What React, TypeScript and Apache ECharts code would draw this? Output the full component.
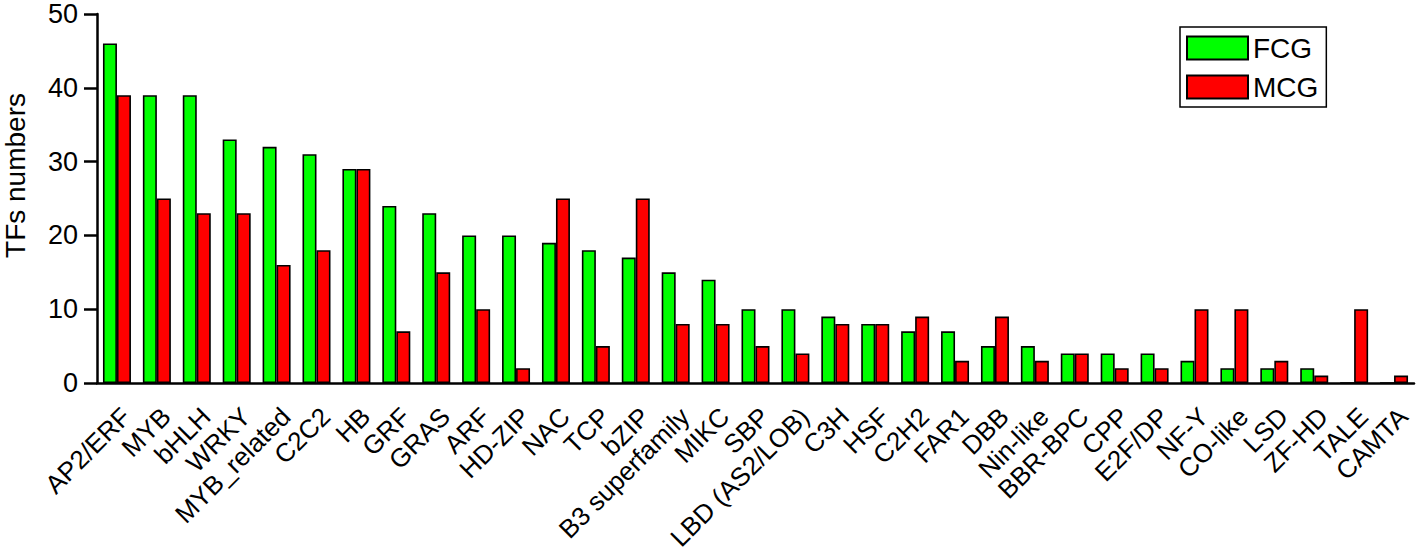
import React, { useEffect, useRef } from "react";
import * as echarts from "echarts";

const categories = [
  "AP2/ERF", "MYB", "bHLH", "WRKY", "MYB_related", "C2C2", "HB", "GRF", "GRAS", "ARF",
  "HD-ZIP", "NAC", "TCP", "bZIP", "B3 superfamily", "MIKC", "SBP", "LBD (AS2/LOB)", "C3H", "HSF",
  "C2H2", "FAR1", "DBB", "Nin-like", "BBR-BPC", "CPP", "E2F/DP", "NF-Y", "CO-like", "LSD",
  "ZF-HD", "TALE", "CAMTA",
];
const fcg = [46, 39, 39, 33, 32, 31, 29, 24, 23, 20, 20, 19, 18, 17, 15, 14, 10, 10, 9, 8, 7, 7, 5, 5, 4, 4, 4, 3, 2, 2, 2, 0, 0];
const mcg = [39, 25, 23, 23, 16, 18, 29, 7, 15, 10, 2, 25, 5, 25, 8, 8, 5, 4, 8, 8, 9, 3, 9, 3, 4, 2, 2, 10, 10, 3, 1, 10, 1];
const yTicks = { min: 0, max: 50, interval: 10 };

const FONT = "'Liberation Sans', Arial, sans-serif";

export default function App() {
  const ref = useRef<HTMLDivElement>(null);
  useEffect(() => {
    if (!ref.current) return;
    const chart = echarts.init(ref.current, null, { renderer: "svg" });
    chart.setOption({
      animation: false,
      textStyle: { fontFamily: FONT },
      grid: { left: 97, right: 4, top: 14, bottom: 175, containLabel: false, outerBoundsMode: "none" },
      legend: {
        left: 1180,
        top: 27,
        orient: "vertical",
        icon: "rect",
        itemWidth: 61,
        itemHeight: 23,
        itemGap: 11,
        padding: [7, 8, 6, 6],
        borderColor: "#000",
        borderWidth: 1.5,
        textStyle: { fontSize: 28, color: "#000", fontFamily: FONT },
        data: ["FCG", "MCG"],
      },
      xAxis: {
        type: "category",
        data: categories,
        axisLine: { lineStyle: { color: "#000", width: 2.5 } },
        axisTick: { alignWithLabel: true, length: 13, lineStyle: { color: "#000", width: 2.5 } },
        axisLabel: {
          rotate: 45,
          fontSize: 26,
          color: "#000",
          margin: 20,
          interval: 0,
          align: "right",
          verticalAlign: "top",
          fontFamily: FONT,
        },
      },
      yAxis: {
        type: "value",
        min: yTicks.min,
        max: yTicks.max,
        interval: yTicks.interval,
        name: "TFs numbers",
        nameLocation: "middle",
        nameGap: 68,
        nameTextStyle: { fontSize: 28, color: "#000", fontFamily: FONT, padding: [0, 0, 0, 46] },
        splitLine: { show: false },
        axisLine: { show: true, lineStyle: { color: "#000", width: 2.5 } },
        axisTick: { show: true, length: 13, lineStyle: { color: "#000", width: 2.5 } },
        axisLabel: { fontSize: 27, color: "#000", margin: 19, fontFamily: FONT },
      },
      series: [
        {
          name: "FCG",
          type: "bar",
          data: fcg,
          barWidth: 14,
          barGap: "0%",
          itemStyle: { color: "#00ff00", borderColor: "#000", borderWidth: 1.6 },
        },
        {
          name: "MCG",
          type: "bar",
          data: mcg,
          barWidth: 14,
          barGap: "0%",
          itemStyle: { color: "#ff0000", borderColor: "#000", borderWidth: 1.6 },
        },
      ],
    });
    return () => chart.dispose();
  }, []);
  return (
    <div
      ref={ref}
      style={{ position: "fixed", left: 0, top: 0, width: 1418, height: 558, background: "#fff" }}
    />
  );
}
